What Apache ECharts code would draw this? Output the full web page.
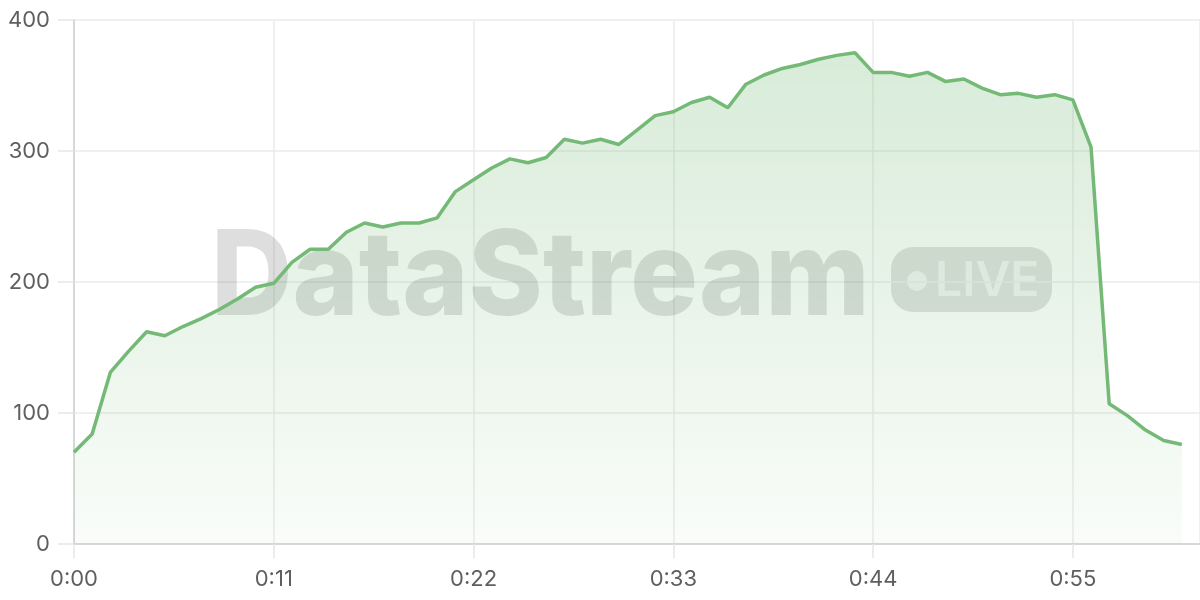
<!DOCTYPE html>
<html>
<head>
<meta charset="utf-8">
<script src="https://cdn.jsdelivr.net/npm/echarts@6/dist/echarts.min.js"></script>
<style>html,body{margin:0;padding:0;background:#fff;}#c{width:1200px;height:600px;}</style>
</head>
<body>
<div id="c"></div>
<script>
// seconds elapsed
var seconds = [0,1,2,3,4,5,6,7,8,9,10,11,12,13,14,15,16,17,18,19,20,21,22,23,24,25,26,27,28,29,30,31,32,33,34,35,36,37,38,39,40,41,42,43,44,45,46,47,48,49,50,51,52,53,54,55,56,57,58,59,60,61];
var values = [70,84,131,147,162,159,166,172,179,187,196,199,215,225,225,238,245,242,245,245,249,269,278,287,294,291,295,309,306,309,305,316,327,330,337,341,333,351,358,363,366,370,373,375,360,360,357,360,353,355,348,343,344,341,343,339,303,107,98,87,79,76];
var yTicks = [0,100,200,300,400];
var xTickStep = 11;

function fmt(s){ var m = Math.floor(s/60), r = s%60; return m + ':' + (r<10?'0':'') + r; }

var chart = echarts.init(document.getElementById('c'));
var pts = seconds.map(function(s,i){ return [s, values[i]]; });
chart.setOption({
  animation: false,
  grid: { left: 74, right: 0, top: 20, bottom: 56, containLabel: false, outerBoundsMode: 'none' },
  xAxis: {
    type: 'value', min: 0, max: 62, interval: xTickStep,
    axisLine: { lineStyle: { color: '#cfcfcf', width: 1.5 } },
    axisTick: { show: true, length: 14, lineStyle: { color: '#e6e6e6', width: 1.5 } },
    splitLine: { show: true, lineStyle: { color: '#ebebeb', width: 1.5 } },
    axisLabel: { formatter: fmt, color: '#5f5f5f', fontSize: 22, fontFamily: 'Inter', margin: 24, showMaxLabel: false }
  },
  yAxis: {
    type: 'value', min: yTicks[0], max: yTicks[yTicks.length-1], interval: 100,
    axisLine: { show: true, lineStyle: { color: '#cfcfcf', width: 1.5 } },
    axisTick: { show: true, length: 16, lineStyle: { color: '#e6e6e6', width: 1.5 } },
    splitLine: { show: true, lineStyle: { color: '#ebebeb', width: 1.5 } },
    axisLabel: { color: '#5f5f5f', fontSize: 22, fontFamily: 'Inter', margin: 24 }
  },
  graphic: [
    { type: 'text', z: 1, x: 211, y: 221, scaleX: 0.955,
      style: { text: 'DataStream', font: '800 118px Inter', fill: 'rgba(0,0,0,0.13)' } },
    { type: 'group', z: 1, x: 891, y: 247, children: [
      { type: 'rect', shape: { x: 0, y: 0, width: 161, height: 65, r: 22 }, style: { fill: 'rgba(0,0,0,0.12)' } },
      { type: 'circle', shape: { cx: 26, cy: 34, r: 10 }, style: { fill: 'rgba(255,255,255,0.6)' } },
      { type: 'text', x: 44, y: 35, style: { text: 'LIVE', font: '600 48px Inter', fill: 'rgba(255,255,255,0.6)', textVerticalAlign: 'middle' } }
    ]}
  ],
  series: [{
    type: 'line', data: pts, showSymbol: false, symbol: 'none', z: 3,
    lineStyle: { color: '#74b976', width: 3.5 },
    areaStyle: { color: new echarts.graphic.LinearGradient(0,0,0,1,[
      { offset: 0, color: 'rgba(116,185,118,0.40)' },
      { offset: 1, color: 'rgba(116,185,118,0.06)' }
    ]) }
  }]
});
</script>
</body>
</html>
